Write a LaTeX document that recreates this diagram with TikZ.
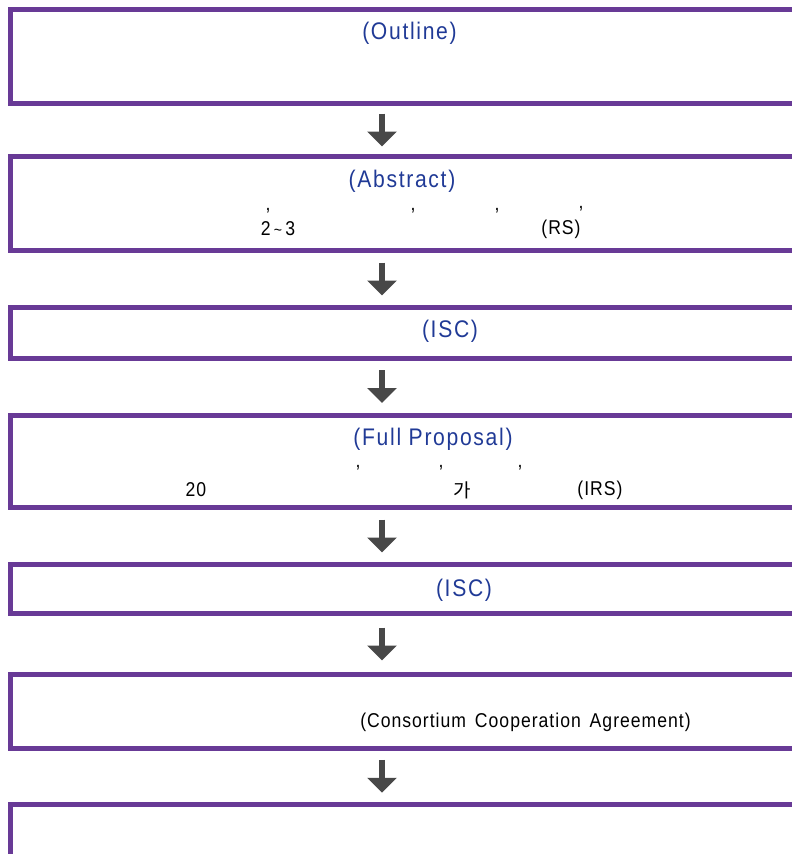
\documentclass[tikz,border=0pt]{standalone}
\usepackage{fontspec}
\setmainfont{Liberation Sans}
\newfontfamily\titlefont[LetterSpace=7,FakeStretch=0.88]{Liberation Sans}
\newfontfamily\bodyfont[LetterSpace=5,FakeStretch=0.88]{Liberation Sans}
\newfontfamily\krfont{Noto Sans CJK KR}
\usetikzlibrary{arrows.meta,calc}
\definecolor{boxpurple}{RGB}{104,58,150}
\definecolor{titleblue}{RGB}{32,58,150}
\definecolor{arrowgray}{RGB}{72,72,72}
\begin{document}
\begin{tikzpicture}[x=1pt,y=-1pt,
  stagebox/.style={draw=boxpurple, line width=5pt, rectangle, minimum width=900pt,
                   inner sep=0pt, outer sep=0pt, anchor=north west},
  titletext/.style={text=titleblue, font=\titlefont\fontsize{24}{28}\selectfont, inner sep=0pt},
  bodytext/.style={text=black, font=\bodyfont\fontsize{20}{24}\selectfont, inner sep=0pt},
  flow/.style={draw=arrowgray, line width=6pt, -{Triangle[width=29pt,length=15pt]}}
]
\useasboundingbox (0,0) rectangle (792,854);
\clip (0,0) rectangle (792,854);

% boxes
\node[stagebox, minimum height=94pt]   (b1) at (10,9.5) {};
\node[stagebox, minimum height=94pt]   (b2) at (10,156.5) {};
\node[stagebox, minimum height=50.5pt] (b3) at (10,307.5) {};
\node[stagebox, minimum height=92.5pt] (b4) at (10,415) {};
\node[stagebox, minimum height=49pt]   (b5) at (10,564.5) {};
\node[stagebox, minimum height=73.5pt] (b6) at (10,674.5) {};
\node[stagebox, minimum height=52pt]   (b7) at (10,804.5) {};

% arrows
\coordinate (ax) at (382,0);
\foreach \u/\l [count=\i] in {b1/b2,b2/b3,b3/b4,b4/b5,b5/b6,b6/b7}{
  \path (\u.south -| ax) -- (\l.north -| ax) coordinate[midway] (m\i);
  \draw[flow] ([yshift=16.5pt]m\i) -- ([yshift=-16.5pt]m\i);
}

% texts
\node[titletext] (t1) at (409.5,33) {(Outline)};

\node[titletext] (t2) at (402,181) {(Abstract)};
\node[bodytext] (c1) at (268,211) {,};
\node[bodytext] (c2) at (413,211) {,};
\node[bodytext] (c3) at (497,211) {,};
\node[bodytext] (c4) at (581,209) {,};
\node[bodytext] (n23) at (278,229) {2\,{\fontsize{16}{16}\selectfont\textasciitilde}\,3};
\node[bodytext] (rs) at (561,229) {(RS)};

\node[titletext] (t3) at (450,331) {(ISC)};

\node[titletext] (t4) at (433,439) {(Full Proposal)};
\node[bodytext] (d1) at (358,468) {,};
\node[bodytext] (d2) at (441,468) {,};
\node[bodytext] (d3) at (520,468) {,};
\node[bodytext] (n20) at (196,490) {20};
\node[bodytext, font=\krfont\fontsize{19}{22}\selectfont] (ga) at (462,490) {가};
\node[bodytext] (irs) at (600,490) {(IRS)};

\node[titletext] (t5) at (464,590) {(ISC)};

\node[bodytext] (t6) at (525.5,722) {(Consortium\hspace{3pt} Cooperation\hspace{3pt} Agreement)};
\end{tikzpicture}
\end{document}
